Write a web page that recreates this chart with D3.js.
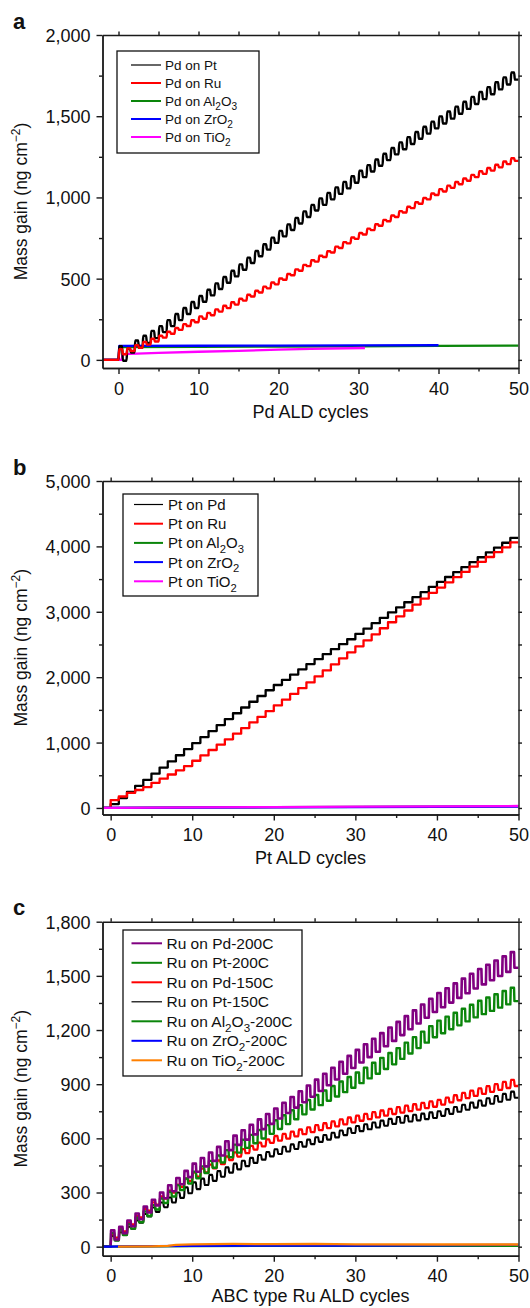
<!DOCTYPE html>
<html>
<head>
<meta charset="utf-8">
<script src="https://cdn.jsdelivr.net/npm/d3@7"></script>
<style>
  body { margin: 0; background: #fff; }
  svg { display: block; }
  text { font-family: "Liberation Sans", Arial, Helvetica, sans-serif; fill: #111; }
</style>
</head>
<body>
<svg id="chart" width="530" height="1308"></svg>
<script>
// ---------- shared ticks ----------
var xTicks = [0, 10, 20, 30, 40, 50];
var xMinor = [5, 15, 25, 35, 45];

// ---------- panel a : Pd ALD (value after each anchor cycle, swing = dose overshoot) ----------
var aYTicks = [0, 500, 1000, 1500, 2000];
var aYMinor = [250, 750, 1250, 1750];
var aCycles = [0, 1, 2, 5, 10, 15, 20, 25, 30, 35, 40, 45, 50];
var aPdOnPt = [10, -5, 45, 134, 319, 514, 720, 920, 1090, 1265, 1425, 1575, 1725];
var aPdOnRu = [30, 35, 55, 113, 232, 340, 465, 605, 745, 880, 1015, 1125, 1225];
var aPdOnPtSwing = 74;
var aPdOnRuSwing = 36;
var aAl2O3X = [-2, 0, 0.15, 10, 20, 30, 40, 50];
var aAl2O3Y = [0, 0, 78, 80, 82, 84, 86, 88];
var aZrO2X = [-2, 0, 0.1, 10, 20, 30, 40];
var aZrO2Y = [0, 0, 86, 87, 88, 89, 90];
var aTiO2X = [-2, 0.4, 0.5, 5, 10, 15, 20, 24, 30.8];
var aTiO2Y = [0, 0, 35, 43, 50, 56, 63, 68, 73];

// ---------- panel b : Pt ALD ----------
var bYTicks = [0, 1000, 2000, 3000, 4000, 5000];
var bYMinor = [500, 1500, 2500, 3500, 4500];
var bCycles = [0, 1, 3, 5, 10, 15, 20, 25, 30, 35, 40, 45, 50];
var bPtOnPd = [0, 60, 245, 430, 900, 1360, 1800, 2200, 2580, 2990, 3380, 3760, 4130];
var bPtOnRu = [0, 120, 230, 320, 640, 1050, 1480, 1920, 2380, 2840, 3290, 3690, 4060];
var bLowX = [-1, 0, 10, 20, 30, 40, 50];
var bAl2O3Y = [0, 2, 8, 12, 16, 20, 25];
var bZrO2Y = [0, 2, 6, 10, 14, 18, 22];
var bTiO2Y = [0, 2, 9, 14, 19, 24, 30];

// ---------- panel c : ABC type Ru ALD ----------
var cYTicks = [0, 300, 600, 900, 1200, 1500, 1800];
var cYMinor = [150, 450, 750, 1050, 1350, 1650];
var cCycles = [0, 1, 2, 5, 10, 15, 20, 25, 30, 35, 40, 45, 50];
var cPd200 = [10, 40, 75, 190, 385, 535, 680, 830, 990, 1140, 1300, 1430, 1545];
var cPd200Swing = [80, 70, 70, 70, 75, 80, 85, 95, 100, 105, 105, 108, 110];
var cPt200 = [5, 35, 65, 170, 350, 495, 625, 760, 880, 1010, 1160, 1270, 1360];
var cPt200Swing = [70, 60, 60, 60, 65, 70, 75, 80, 85, 90, 92, 92, 92];
var cPd150 = [10, 50, 85, 200, 365, 480, 575, 635, 688, 735, 775, 835, 890];
var cPd150Swing = [60, 50, 48, 45, 45, 42, 38, 38, 38, 38, 38, 42, 46];
var cPt150 = [5, 35, 65, 167, 296, 410, 500, 568, 630, 680, 713, 770, 825];
var cPt150Swing = [55, 45, 45, 50, 60, 50, 40, 38, 38, 38, 37, 40, 46];
var cAl2O3X = [-1, 1, 10, 20, 30, 40, 50];
var cAl2O3Y = [0, 0, 3, 5, 4, 4, 4];
var cZrO2X = [-1, 0, 1, 10, 20, 30, 40, 50];
var cZrO2Y = [0, 0, 2, 4, 6, 6, 8, 10];
var cTiO2X = [0.9, 5, 7, 8, 10, 15, 20, 25, 30, 40, 50];
var cTiO2Y = [0, 2, 4, 10, 13, 15, 14, 16, 13, 12, 12];

// ---------- point builders ----------
// one dose-up / purge-down pulse per cycle, e = length of the rising / falling edge
function wavePoints(cycles, trough, swing, x0, e) {
  var T = d3.scaleLinear().domain(cycles).range(trough);
  var S = typeof swing === "number" ? function() { return swing; }
                                    : d3.scaleLinear().domain(cycles).range(swing);
  var pts = [[x0, 0], [0, 0]];
  d3.range(0, cycles[cycles.length - 1]).forEach(function(n) {
    var t0 = T(n), t1 = T(n + 1), s = S(n);
    pts.push([n + e, t0 + s], [n + 0.45, t0 + s], [n + 0.45 + e, t1], [n + 1, t1]);
  });
  return pts;
}
function stepPoints(cycles, values, x0) {
  var T = d3.scaleLinear().domain(cycles).range(values);
  var last = cycles[cycles.length - 1];
  var pts = [[x0, 0]];
  d3.range(0, last).forEach(function(n) { pts.push([n, T(n + 1)]); });
  pts.push([last, T(last)]);
  return pts;
}
function pairs(xs, ys) { return xs.map(function(x, i) { return [x, ys[i]]; }); }

var BLACK = "#000", RED = "#ff0000", GREEN = "#0a850a", BLUE = "#0000ff",
    MAGENTA = "#ff00ff", PURPLE = "#800080", ORANGE = "#ff8000";
var mono = d3.curveMonotoneX, lin = d3.curveLinear, step = d3.curveStepAfter;

var LEFT = 102.5, RIGHT = 518.5;

var panels = [
  { letter: "a", top: 35, bottom: 368, xDom: [-2, 50], yDom: [-50, 2000],
    yTicks: aYTicks, yMinor: aYMinor, xLabel: "Pd ALD cycles", xLabelY: 418,
    legend: { x: 117, y: 51, w: 142, h: 102, first: 65, gap: 18, fs: 13.5, lx: 131, lx2: 161, tx: 165 },
    series: [
      { name: "Pd on Pt", color: BLACK, w: 2.4, lw: 1.2, curve: mono, pts: wavePoints(aCycles, aPdOnPt, aPdOnPtSwing, -2, 0.1) },
      { name: "Pd on Ru", color: RED, w: 2.4, lw: 2, curve: mono, pts: wavePoints(aCycles, aPdOnRu, aPdOnRuSwing, -2, 0.1) },
      { name: "Pd on Al_2O_3", color: GREEN, w: 2.3, lw: 2, curve: lin, pts: pairs(aAl2O3X, aAl2O3Y) },
      { name: "Pd on ZrO_2", color: BLUE, w: 2.3, lw: 2, curve: lin, pts: pairs(aZrO2X, aZrO2Y) },
      { name: "Pd on TiO_2", color: MAGENTA, w: 2.3, lw: 2, curve: lin, pts: pairs(aTiO2X, aTiO2Y) }
    ],
    order: [2, 3, 4, 0, 1] },
  { letter: "b", top: 481, bottom: 814.5, xDom: [-1, 50], yDom: [-100, 5000],
    yTicks: bYTicks, yMinor: bYMinor, xLabel: "Pt ALD cycles", xLabelY: 864,
    legend: { x: 123, y: 494, w: 135, h: 102, first: 504.5, gap: 19.2, fs: 15, lx: 134, lx2: 163, tx: 168 },
    series: [
      { name: "Pt on Pd", color: BLACK, w: 2.3, lw: 1.2, curve: step, pts: stepPoints(bCycles, bPtOnPd, -1) },
      { name: "Pt on Ru", color: RED, w: 2.3, lw: 2, curve: step, pts: stepPoints(bCycles, bPtOnRu, -1) },
      { name: "Pt on Al_2O_3", color: GREEN, w: 2.3, lw: 2, curve: lin, pts: pairs(bLowX, bAl2O3Y) },
      { name: "Pt on ZrO_2", color: BLUE, w: 2.3, lw: 2, curve: lin, pts: pairs(bLowX, bZrO2Y) },
      { name: "Pt on TiO_2", color: MAGENTA, w: 2.3, lw: 2, curve: lin, pts: pairs(bLowX, bTiO2Y) }
    ],
    order: [0, 1, 2, 3, 4] },
  { letter: "c", top: 921.7, bottom: 1255.7, xDom: [-1, 50], yDom: [-50, 1800],
    yTicks: cYTicks, yMinor: cYMinor, xLabel: "ABC type Ru ALD cycles", xLabelY: 1302,
    legend: { x: 123, y: 930, w: 179, h: 146, first: 943.3, gap: 19.5, fs: 15.5, lx: 131.5, lx2: 162, tx: 166.5 },
    series: [
      { name: "Ru on Pd-200C", color: PURPLE, w: 2.6, lw: 2, curve: lin, pts: wavePoints(cCycles, cPd200, cPd200Swing, -1, 0.05) },
      { name: "Ru on Pt-200C", color: GREEN, w: 2.4, lw: 2, curve: lin, pts: wavePoints(cCycles, cPt200, cPt200Swing, -1, 0.05) },
      { name: "Ru on Pd-150C", color: RED, w: 2.3, lw: 2, curve: mono, pts: wavePoints(cCycles, cPd150, cPd150Swing, -1, 0.08) },
      { name: "Ru on Pt-150C", color: BLACK, w: 2.1, lw: 1.2, curve: mono, pts: wavePoints(cCycles, cPt150, cPt150Swing, -1, 0.08) },
      { name: "Ru on Al_2O_3-200C", color: GREEN, w: 2.3, lw: 2, curve: lin, pts: pairs(cAl2O3X, cAl2O3Y) },
      { name: "Ru on ZrO_2-200C", color: BLUE, w: 2.3, lw: 2, curve: lin, pts: pairs(cZrO2X, cZrO2Y) },
      { name: "Ru on TiO_2-200C", color: ORANGE, w: 2.3, lw: 2, curve: lin, pts: pairs(cTiO2X, cTiO2Y) }
    ],
    order: [3, 2, 1, 0, 4, 5, 6] }
];

var svg = d3.select("#chart");

// writes "Al_2O_3" style labels with real subscripts
function addLabel(sel, label, fs) {
  var parts = label.split(/_(\d)/), shift = 0;
  parts.forEach(function(p, i) {
    if (!p) return;
    var sub = i % 2 === 1;
    var want = sub ? fs * 0.32 : 0;
    sel.append("tspan").attr("dy", want - shift).attr("font-size", sub ? fs * 0.75 : fs).text(p);
    shift = want;
  });
}

function styleAxis(g) {
  g.selectAll("path, line").attr("stroke", "#1a1a1a").attr("stroke-width", 1.4);
  g.selectAll("text").attr("font-size", 18).attr("fill", "#111")
    .attr("font-family", "'Liberation Sans', Arial, sans-serif");
}

panels.forEach(function(p) {
  var x = d3.scaleLinear().domain(p.xDom).range([LEFT, RIGHT]);
  var y = d3.scaleLinear().domain(p.yDom).range([p.bottom, p.top]);

  var clipId = "clip-" + p.letter;
  svg.append("clipPath").attr("id", clipId).append("rect")
    .attr("x", LEFT).attr("y", p.top).attr("width", RIGHT - LEFT).attr("height", p.bottom - p.top);

  var g = svg.append("g").attr("clip-path", "url(#" + clipId + ")");
  p.order.forEach(function(i) {
    var s = p.series[i];
    var line = d3.line().x(function(d) { return x(d[0]); }).y(function(d) { return y(d[1]); }).curve(s.curve);
    g.append("path").datum(s.pts).attr("d", line)
      .attr("fill", "none").attr("stroke", s.color).attr("stroke-width", s.w)
      .attr("stroke-linejoin", "round");
  });

  // major + minor ticks on all four sides
  var fmt = d3.format(",");
  var gl = svg.append("g").attr("transform", "translate(" + LEFT + ",0)")
    .call(d3.axisLeft(y).tickValues(p.yTicks).tickSize(6).tickSizeOuter(0).tickPadding(6).tickFormat(fmt));
  gl.selectAll("text").attr("dy", "0.36em");
  styleAxis(gl);
  styleAxis(svg.append("g").attr("transform", "translate(" + LEFT + ",0)")
    .call(d3.axisLeft(y).tickValues(p.yMinor).tickSize(3.5).tickSizeOuter(0).tickFormat("")));
  styleAxis(svg.append("g").attr("transform", "translate(" + RIGHT + ",0)")
    .call(d3.axisRight(y).tickValues(p.yTicks.concat(p.yMinor)).tickSize(3.5).tickSizeOuter(0).tickFormat("")));

  var gb = svg.append("g").attr("transform", "translate(0," + p.bottom + ")")
    .call(d3.axisBottom(x).tickValues(xTicks).tickSize(6).tickSizeOuter(0).tickPadding(8).tickFormat(d3.format("d")));
  styleAxis(gb);
  styleAxis(svg.append("g").attr("transform", "translate(0," + p.bottom + ")")
    .call(d3.axisBottom(x).tickValues(xMinor).tickSize(3.5).tickSizeOuter(0).tickFormat("")));
  styleAxis(svg.append("g").attr("transform", "translate(0," + p.top + ")")
    .call(d3.axisTop(x).tickValues(xTicks.concat(xMinor)).tickSize(3.5).tickSizeOuter(0).tickFormat("")));

  // axis titles
  svg.append("text").attr("x", (LEFT + RIGHT) / 2).attr("y", p.xLabelY)
    .attr("text-anchor", "middle").attr("font-size", 18).text(p.xLabel);
  var yl = svg.append("text").attr("text-anchor", "middle").attr("font-size", 17.5)
    .attr("transform", "translate(27," + ((p.top + p.bottom) / 2) + ") rotate(-90)");
  yl.append("tspan").text("Mass gain (ng cm");
  yl.append("tspan").attr("dy", -7).attr("font-size", 12).text("\u22122");
  yl.append("tspan").attr("dy", 7).text(")");

  // panel letter
  svg.append("text").attr("x", 13).attr("y", p.top - 6.5)
    .attr("font-size", 22).attr("font-weight", "bold").text(p.letter);

  // legend
  var L = p.legend;
  svg.append("rect").attr("x", L.x).attr("y", L.y).attr("width", L.w).attr("height", L.h)
    .attr("fill", "#fff").attr("stroke", "#111").attr("stroke-width", 1.3);
  p.series.forEach(function(s, i) {
    var yy = L.first + i * L.gap;
    svg.append("line").attr("x1", L.lx).attr("x2", L.lx2).attr("y1", yy).attr("y2", yy)
      .attr("stroke", s.color).attr("stroke-width", s.lw);
    var t = svg.append("text").attr("x", L.tx).attr("y", yy + L.fs * 0.36).attr("font-size", L.fs);
    addLabel(t, s.name, L.fs);
  });
});
</script>
</body>
</html>
